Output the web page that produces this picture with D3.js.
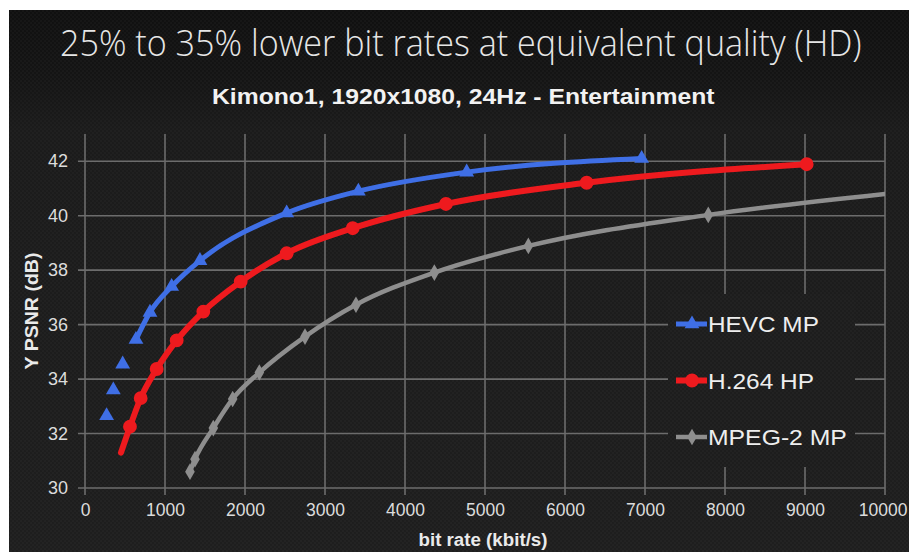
<!DOCTYPE html>
<html>
<head>
<meta charset="utf-8">
<script src="https://cdn.jsdelivr.net/npm/d3@7"></script>
<style>
  html, body { margin: 0; padding: 0; background: #fff; }
  svg { display: block; }
</style>
</head>
<body>
<svg id="chart" width="909" height="552"></svg>
<script>
// values
const rateTicks = [0, 1000, 2000, 3000, 4000, 5000, 6000, 7000, 8000, 9000, 10000]
const psnrTicks = [30, 32, 34, 36, 38, 40, 42]

const hevcRate = [270, 354, 471, 637, 812, 1083, 1437, 2521, 3417, 4771, 6958]
const hevcPsnr = [32.65, 33.6, 34.55, 35.45, 36.45, 37.4, 38.35, 40.1, 40.9, 41.6, 42.1]

const h264Rate = [450, 562, 696, 896, 1146, 1479, 1946, 2521, 3346, 4512, 6271, 9021]
const h264Psnr = [31.3, 32.25, 33.3, 34.37, 35.42, 36.48, 37.58, 38.62, 39.54, 40.43, 41.21, 41.89]

const mpegRate = [1312, 1375, 1604, 1846, 2179, 2750, 3387, 4367, 5542, 7791, 10000]
const mpegPsnr = [30.6, 31.06, 32.2, 33.27, 34.24, 35.56, 36.73, 37.91, 38.89, 40.03, 40.8]

const seriesNames = ['HEVC MP', 'H.264 HP', 'MPEG-2 MP']

const blue = '#3f6fe6'
const red = '#ee1a1e'
const grey = '#8e8e8e'

const svg = d3.select('#chart')
const W = 909, H = 552
const plot = { left: 85, right: 885, top: 134, bottom: 488 }

const x = d3.scaleLinear().domain([0, 10000]).range([plot.left, plot.right])
const y = d3.scaleLinear().domain([30, 43]).range([plot.bottom, plot.top])

const defs = svg.append('defs')

const bg = defs.append('linearGradient').attr('id', 'bg')
	.attr('x1', 0).attr('y1', 0).attr('x2', 0).attr('y2', 1)
bg.append('stop').attr('offset', '0%').attr('stop-color', '#101010')
bg.append('stop').attr('offset', '12%').attr('stop-color', '#141414')
bg.append('stop').attr('offset', '22%').attr('stop-color', '#1b1b1b')
bg.append('stop').attr('offset', '100%').attr('stop-color', '#1e1e1e')

// faint carbon texture
const pat = defs.append('pattern').attr('id', 'weave')
	.attr('width', 4).attr('height', 4).attr('patternUnits', 'userSpaceOnUse')
pat.append('rect').attr('width', 2).attr('height', 2).attr('fill', '#fff').attr('opacity', 0.025)
pat.append('rect').attr('x', 2).attr('y', 2).attr('width', 2).attr('height', 2).attr('fill', '#fff').attr('opacity', 0.025)

defs.append('clipPath').attr('id', 'plotclip')
	.append('rect')
	.attr('x', plot.left).attr('y', plot.top - 10)
	.attr('width', plot.right - plot.left).attr('height', plot.bottom - plot.top + 10)

// white border top/left, dark slide behind
svg.append('rect').attr('width', W).attr('height', H).attr('fill', '#fff')
svg.append('rect').attr('x', 9).attr('y', 10).attr('width', W - 9).attr('height', H - 10).attr('fill', 'url(#bg)')
svg.append('rect').attr('x', 9).attr('y', 10).attr('width', W - 9).attr('height', H - 10).attr('fill', 'url(#weave)')

// squeeze a text horizontally so it covers the given width, anchored at (tx, ty)
const fitText = (sel, tx, ty, width, anchor) => {
	sel.each(function() {
		const w = this.getComputedTextLength()
		const k = width / w
		d3.select(this).attr('transform', `translate(${tx},${ty}) scale(${k},1)`)
			.attr('text-anchor', anchor || 'start')
	})
}

// titles
svg.append('text')
	.attr('fill', '#e6e6e6')
	.style('font-family', '"Open Sans", Lato, sans-serif')
	.style('font-weight', 300)
	.style('font-size', '37px')
	.text('25% to 35% lower bit rates at equivalent quality (HD)')
	.call(fitText, 60, 56, 802)

svg.append('text')
	.attr('fill', '#f2f2f2')
	.style('font-family', '"Liberation Sans", Arial, sans-serif')
	.style('font-weight', 'bold')
	.style('font-size', '23px')
	.text('Kimono1, 1920x1080, 24Hz - Entertainment')
	.call(fitText, 212, 104, 503)

// grid
const grid = svg.append('g').attr('stroke', '#6c6c6c').attr('stroke-width', 1.6)
grid.selectAll('.hg').data(psnrTicks).join('line')
	.attr('x1', plot.left - 7).attr('x2', plot.right)
	.attr('y1', d => y(d)).attr('y2', d => y(d))
grid.selectAll('.vg').data(rateTicks).join('line')
	.attr('x1', d => x(d)).attr('x2', d => x(d))
	.attr('y1', plot.top).attr('y2', plot.bottom + 7)

// axes labels
const tickFont = '"Liberation Sans", Arial, sans-serif'
const xAxis = d3.axisBottom(x).tickValues(rateTicks).tickSize(0).tickPadding(16).tickFormat(d3.format('d'))
svg.append('g').attr('transform', `translate(0,${plot.bottom})`).call(xAxis)
	.call(g => g.select('.domain').remove())
	.call(g => g.selectAll('text').attr('fill', '#dcdcdc').style('font-family', tickFont).style('font-size', '17.5px'))
	// the last label sits right against the slide edge
	.call(g => g.selectAll('.tick').filter(d => d === 10000).select('text')
		.attr('text-anchor', 'end').attr('dx', 22))

const yAxis = d3.axisLeft(y).tickValues(psnrTicks).tickSize(0).tickPadding(17)
svg.append('g').attr('transform', `translate(${plot.left},0)`).call(yAxis)
	.call(g => g.select('.domain').remove())
	.call(g => g.selectAll('text').attr('fill', '#dcdcdc').style('font-family', tickFont).style('font-size', '18px'))

svg.append('text')
	.attr('fill', '#eaeaea')
	.style('font-family', tickFont).style('font-weight', 'bold').style('font-size', '18px')
	.text('bit rate (kbit/s)')
	.call(fitText, 483, 546, 129, 'middle')

svg.append('g').attr('transform', 'translate(38,311) rotate(-90)')
	.append('text')
	.attr('fill', '#eaeaea')
	.style('font-family', tickFont).style('font-weight', 'bold').style('font-size', '18px')
	.text('Y PSNR (dB)')
	.call(fitText, 0, 0, 117, 'middle')

// series
const line = d3.line().x(d => x(d[0])).y(d => y(d[1])).curve(d3.curveMonotoneX)
const plotG = svg.append('g').attr('clip-path', 'url(#plotclip)')

const hevcPts = d3.zip(hevcRate, hevcPsnr)
const h264Pts = d3.zip(h264Rate, h264Psnr)
const mpegPts = d3.zip(mpegRate, mpegPsnr)

// HEVC curve only joins from the 4th point, the lowest three are lone markers
plotG.append('path').datum(hevcPts.slice(3))
	.attr('d', line).attr('fill', 'none').attr('stroke', blue).attr('stroke-width', 5).attr('stroke-linecap', 'round')
plotG.append('path').datum(h264Pts)
	.attr('d', line).attr('fill', 'none').attr('stroke', red).attr('stroke-width', 6).attr('stroke-linecap', 'round')
plotG.append('path').datum(mpegPts)
	.attr('d', line).attr('fill', 'none').attr('stroke', grey).attr('stroke-width', 4.5).attr('stroke-linecap', 'round')

const tri = d3.symbol().type(d3.symbolTriangle).size(95)
const dot = d3.symbol().type(d3.symbolCircle).size(150)
const dia = d3.symbol().type(d3.symbolDiamond).size(80)

plotG.selectAll('.hevc').data(hevcPts).join('path')
	.attr('d', tri).attr('fill', blue)
	.attr('transform', d => `translate(${x(d[0])},${y(d[1])})`)
plotG.selectAll('.h264').data(h264Pts.slice(1)).join('path')
	.attr('d', dot).attr('fill', red)
	.attr('transform', d => `translate(${x(d[0])},${y(d[1])})`)
plotG.selectAll('.mpeg').data(mpegPts.slice(0, -1)).join('path')
	.attr('d', dia).attr('fill', grey)
	.attr('transform', d => `translate(${x(d[0])},${y(d[1])})`)

// legend
const legend = svg.append('g')
legend.append('rect').attr('x', 668).attr('y', 294).attr('width', 187).attr('height', 173).attr('fill', '#1d1d1d')
legend.append('rect').attr('x', 668).attr('y', 294).attr('width', 187).attr('height', 173).attr('fill', 'url(#weave)')

const legRows = [
	{ name: seriesNames[0], color: blue, sym: tri, w: 111, sw: 5 },
	{ name: seriesNames[1], color: red, sym: dot, w: 106, sw: 6 },
	{ name: seriesNames[2], color: grey, sym: dia, w: 139, sw: 4.5 }
]
const legY = d3.scalePoint().domain(seriesNames).range([324, 437])

const row = legend.selectAll('.row').data(legRows).join('g')
	.attr('transform', d => `translate(0,${legY(d.name)})`)
row.append('line').attr('x1', 676).attr('x2', 707)
	.attr('stroke', d => d.color).attr('stroke-width', d => d.sw)
row.append('path').attr('d', d => d.sym()).attr('fill', d => d.color)
	.attr('transform', 'translate(692,0)')
row.append('text')
	.attr('fill', '#eeeeee')
	.style('font-family', tickFont).style('font-size', '22px')
	.text(d => d.name)
	.each(function(d) { d3.select(this).call(fitText, 708, 8, d.w) })
</script>
</body>
</html>
